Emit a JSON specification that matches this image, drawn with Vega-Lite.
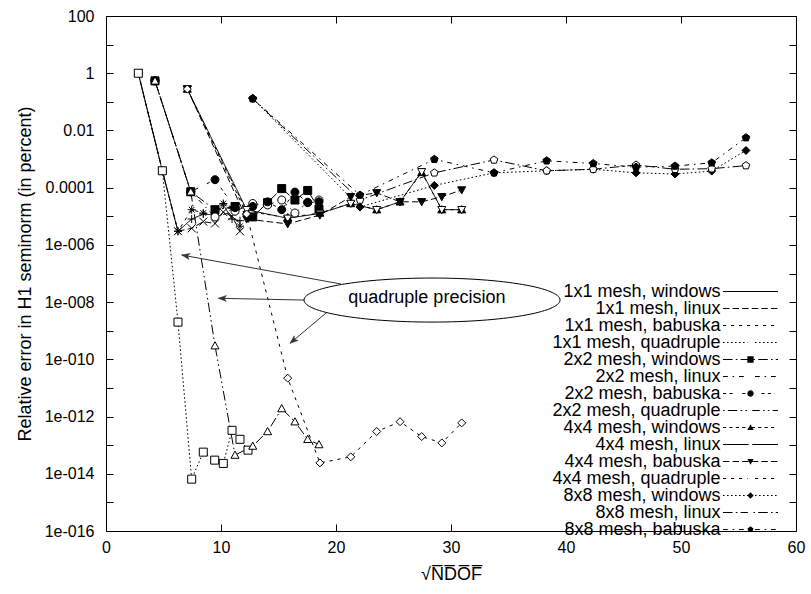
{
  "$schema": "https://vega.github.io/schema/vega-lite/v6.json",
  "autosize": "none",
  "width": 690,
  "height": 515,
  "padding": {"left": 106, "top": 16, "right": 15, "bottom": 63},
  "background": "white",
  "config": {
    "font": "Liberation Sans",
    "view": {"stroke": "black", "strokeWidth": 1},
    "point": {"stroke": "black", "strokeWidth": 1},
    "axis": {
      "domain": false, "grid": false, "tickColor": "black", "tickSize": -7, "tickWidth": 1,
      "labelColor": "black", "labelFont": "Liberation Sans", "labelFontSize": 16, "labelFlush": false,
      "labelOverlap": false, "titleFont": "Liberation Sans", "titleFontSize": 18,
      "titleFontWeight": "normal", "titleColor": "black"
    },
    "legend": {
      "labelFont": "Liberation Sans", "labelColor": "black", "labelFontSize": 18, "padding": 0,
      "rowPadding": -2.9, "clipHeight": 16, "labelLimit": 500
    }
  },
  "datasets": {
    "pts": [
      {"s": "1x1 mesh, windows", "x": [2.81, 4.9, 6.26, 7.45, 8.46, 9.48, 10.2, 10.96, 11.65], "y": [1, 3.9e-4, 3e-6, 8e-6, 1.2e-5, 1.1e-5, 2.5e-5, 8e-6, 7e-6]},
      {"s": "1x1 mesh, linux", "x": [2.81, 4.9, 6.26, 7.45, 8.46, 9.48, 10.2, 10.96, 11.65], "y": [1, 3.9e-4, 3e-6, 3.8e-6, 6.5e-6, 5.6e-6, 1.4e-5, 1e-5, 3e-6]},
      {"s": "1x1 mesh, babuska", "x": [2.81, 4.9, 6.26, 7.45, 8.46, 9.48, 10.2, 10.96, 11.65], "y": [1, 3.9e-4, 3e-6, 1.7e-5, 1.3e-5, 1.2e-5, 2.8e-5, 1.9e-5, 4.5e-6]},
      {"s": "1x1 mesh, quadruple", "x": [2.81, 4.9, 6.26, 7.45, 8.46, 9.45, 10.2, 10.96, 11.65, 12.35], "y": [1, 3.9e-4, 2e-9, 6.5e-15, 5.7e-14, 3e-14, 2.3e-14, 3.3e-13, 1.6e-13, 6.7e-14]},
      {"s": "2x2 mesh, windows", "x": [4.26, 7.37, 9.48, 11.22, 12.76, 14.05, 15.28, 16.43, 17.54, 18.52], "y": [0.54, 7.2e-5, 1.7e-5, 2.2e-5, 9.5e-6, 3e-5, 9.3e-5, 3.7e-5, 8e-5, 1.8e-5]},
      {"s": "2x2 mesh, linux", "x": [4.26, 7.37, 9.48, 11.22, 12.76, 14.05, 15.28, 16.43, 17.54, 18.52], "y": [0.54, 7.2e-5, 9.5e-6, 1.5e-5, 2.8e-5, 2.5e-5, 3.7e-5, 1.3e-5, 3.1e-5, 3.7e-5]},
      {"s": "2x2 mesh, babuska", "x": [4.26, 7.37, 9.48, 11.22, 12.76, 14.05, 15.28, 16.43, 17.54, 18.52], "y": [0.54, 7.2e-5, 1.9e-4, 2e-5, 2.2e-5, 3.2e-5, 1.7e-5, 7e-5, 3e-5, 3.2e-5]},
      {"s": "2x2 mesh, quadruple", "x": [4.26, 7.37, 9.48, 11.22, 12.76, 14.05, 15.28, 16.43, 17.54, 18.52], "y": [0.54, 7.2e-5, 3e-10, 4.5e-14, 9.3e-14, 3e-13, 1.9e-12, 6.6e-13, 1.6e-13, 1.05e-13]},
      {"s": "4x4 mesh, windows", "x": [7.07, 12.23, 15.8, 18.6, 21.28, 23.54, 25.57, 27.45, 29.2, 30.93], "y": [0.28, 1.5e-5, 9e-6, 1.3e-5, 2.8e-5, 1.7e-5, 3.2e-5, 3.4e-4, 1.7e-5, 1.7e-5]},
      {"s": "4x4 mesh, linux", "x": [7.07, 12.23, 15.8, 18.6, 21.28, 23.54, 25.57, 27.45, 29.2, 30.93], "y": [0.28, 1.7e-5, 8.5e-6, 1.26e-5, 2.8e-5, 1.7e-5, 3.2e-5, 3.6e-4, 1.7e-5, 1.7e-5]},
      {"s": "4x4 mesh, babuska", "x": [7.07, 12.23, 15.8, 18.6, 21.28, 23.54, 25.57, 27.45, 29.2, 30.93], "y": [0.28, 8e-6, 5.4e-6, 1.1e-5, 4.8e-5, 6.6e-5, 3.2e-5, 3.2e-5, 4.8e-5, 8.3e-5]},
      {"s": "4x4 mesh, quadruple", "x": [7.07, 12.23, 15.8, 18.6, 21.28, 23.54, 25.57, 27.45, 29.2, 30.93], "y": [0.28, 1.2e-5, 2.2e-11, 2.4e-14, 3.9e-14, 3e-13, 6.6e-13, 2e-13, 1.2e-13, 6e-13]},
      {"s": "8x8 mesh, windows", "x": [12.76, 22.09, 28.55, 33.74, 38.32, 42.37, 46.09, 49.48, 52.67, 55.65], "y": [0.13, 2.1e-5, 1.2e-4, 3.3e-4, 3.9e-4, 4.4e-4, 3.3e-4, 3e-4, 3.8e-4, 2e-3]},
      {"s": "8x8 mesh, linux", "x": [12.76, 22.09, 28.55, 33.74, 38.32, 42.37, 46.09, 49.48, 52.67, 55.65], "y": [0.13, 3.7e-5, 3.3e-4, 9.3e-4, 3.9e-4, 4.4e-4, 6.2e-4, 4.4e-4, 4.6e-4, 5.9e-4]},
      {"s": "8x8 mesh, babuska", "x": [12.76, 22.09, 28.55, 33.74, 38.32, 42.37, 46.09, 49.48, 52.67, 55.65], "y": [0.13, 5.5e-5, 9.8e-4, 3.3e-4, 8.7e-4, 7e-4, 5.2e-4, 5.7e-4, 7.4e-4, 5.6e-3]}
    ],
    "arrows": [
      {"x1": 20.43, "y1": 4.3e-8, "x2": 6.58, "y2": 4.43e-7},
      {"x1": 17.22, "y1": 1.18e-8, "x2": 9.77, "y2": 1.36e-8},
      {"x1": 19.19, "y1": 4.33e-9, "x2": 16.0, "y2": 3.63e-10}
    ]
  },
  "resolve": {"axis": {"x": "independent", "y": "independent"}},
  "layer": [
    {
      "data": {"name": "pts"},
      "transform": [{"flatten": ["x", "y"]}],
      "mark": {"type": "line", "strokeWidth": 1},
      "encoding": {
        "x": {"field": "x", "type": "quantitative", "scale": {"domain": [0, 60], "nice": false, "zero": false},
          "axis": {"orient": "bottom", "values": [0, 10, 20, 30, 40, 50, 60], "title": "√N̅D̅O̅F̅", "labelPadding": 15, "titlePadding": 10}},
        "y": {"field": "y", "type": "quantitative", "scale": {"type": "log", "domain": [1e-16, 100], "nice": false},
          "axis": {"orient": "left", "values": [100, 10, 1, 0.1, 0.01, 0.001, 0.0001, 1e-5, 1e-6, 1e-7, 1e-8, 1e-9, 1e-10, 1e-11, 1e-12, 1e-13, 1e-14, 1e-15, 1e-16],
            "labelExpr": "['100','','1','','0.01','','0.0001','','1e-006','','1e-008','','1e-010','','1e-012','','1e-014','','1e-016'][round(2 - log(datum.value)/LN10)]",
            "labelPadding": 19, "title": "Relative error in H1 seminorm (in percent)", "titlePadding": 10}},
        "stroke": {"field": "s", "type": "nominal",
          "scale": {"domain": ["1x1 mesh, windows", "1x1 mesh, linux", "1x1 mesh, babuska", "1x1 mesh, quadruple", "2x2 mesh, windows", "2x2 mesh, linux", "2x2 mesh, babuska", "2x2 mesh, quadruple", "4x4 mesh, windows", "4x4 mesh, linux", "4x4 mesh, babuska", "4x4 mesh, quadruple", "8x8 mesh, windows", "8x8 mesh, linux", "8x8 mesh, babuska", " "], "range": ["black"]},
          "legend": {"orient": "none", "title": null, "legendX": 596.5, "legendY": 267.5, "symbolSize": 1, "symbolOpacity": 0, "labelAlign": "right", "labelOffset": 0}},
        "strokeDash": {"field": "s", "type": "nominal",
          "sort": ["1x1 mesh, windows", "1x1 mesh, linux", "1x1 mesh, babuska", "1x1 mesh, quadruple", "2x2 mesh, windows", "2x2 mesh, linux", "2x2 mesh, babuska", "2x2 mesh, quadruple", "4x4 mesh, windows", "4x4 mesh, linux", "4x4 mesh, babuska", "4x4 mesh, quadruple", "8x8 mesh, windows", "8x8 mesh, linux", "8x8 mesh, babuska"],
          "scale": {"range": [[1, 0], [6.4, 3.2], [3.2, 4.8], [1.6, 2.4], [9.6, 3.2, 1.6, 3.2], [4.8, 4.8, 1.6, 4.8], [3.2, 3.2, 3.2, 9.6], [1.6, 3.2, 9.6, 3.2, 1.6, 3.2], [3.2, 3.2, 3.2, 3.2, 3.2, 3.2, 3.2, 6.4], [1, 0], [6.4, 3.2], [3.2, 4.8], [1.6, 2.4], [9.6, 3.2, 1.6, 3.2], [4.8, 4.8, 1.6, 4.8]]},
          "legend": {"orient": "none", "title": null, "legendX": 616.5, "legendY": 267.5, "symbolType": "M-1,0H1", "symbolSize": 3025, "symbolStrokeColor": "black", "symbolStrokeWidth": 1, "labelExpr": "' '",
            "encode": {"symbols": {"update": {"stroke": {"value": "black"}, "strokeWidth": {"value": 1}}}}}}
      }
    },
    {
      "data": {"name": "pts"},
      "transform": [{"flatten": ["x", "y"]}],
      "mark": {"type": "point", "filled": true, "stroke": "black", "strokeWidth": 1, "size": 64, "opacity": 1},
      "encoding": {
        "x": {"field": "x", "type": "quantitative", "axis": {"orient": "top", "values": [0, 10, 20, 30, 40, 50, 60], "labels": false, "title": null}},
        "y": {"field": "y", "type": "quantitative", "axis": {"orient": "right", "values": [100, 10, 1, 0.1, 0.01, 0.001, 0.0001, 1e-5, 1e-6, 1e-7, 1e-8, 1e-9, 1e-10, 1e-11, 1e-12, 1e-13, 1e-14, 1e-15, 1e-16], "labels": false, "title": null}},
        "shape": {"field": "s", "type": "nominal",
          "scale": {"domain": ["1x1 mesh, windows", "1x1 mesh, linux", "1x1 mesh, babuska", "1x1 mesh, quadruple", "2x2 mesh, windows", "2x2 mesh, linux", "2x2 mesh, babuska", "2x2 mesh, quadruple", "4x4 mesh, windows", "4x4 mesh, linux", "4x4 mesh, babuska", "4x4 mesh, quadruple", "8x8 mesh, windows", "8x8 mesh, linux", "8x8 mesh, babuska"],
            "range": ["M-1,0H1M0,-1V1", "M-1,-1L1,1M-1,1L1,-1", "M-1,0H1M0,-1V1M-0.7,-0.7L0.7,0.7M-0.7,0.7L0.7,-0.7", "M-1,-1H1V1H-1Z", "M-1,-1H1V1H-1Z", "M1,0A1,1,0,1,1,-1,0A1,1,0,1,1,1,0Z", "M1,0A1,1,0,1,1,-1,0A1,1,0,1,1,1,0Z", "M0,-1L1,0.8L-1,0.8Z", "M0,-1L1,0.8L-1,0.8Z", "M0,1L1,-0.8L-1,-0.8Z", "M0,1L1,-0.8L-1,-0.8Z", "M0,-1L1,0L0,1L-1,0Z", "M0,-1L1,0L0,1L-1,0Z", "M0,-1L0.95,-0.31L0.59,0.81L-0.59,0.81L-0.95,-0.31Z", "M0,-1L0.95,-0.31L0.59,0.81L-0.59,0.81L-0.95,-0.31Z"]},
          "legend": {"orient": "none", "title": null, "legendX": 635.5, "legendY": 267.5, "symbolSize": 40, "symbolStrokeColor": "black", "symbolStrokeWidth": 1, "labelExpr": "' '",
            "encode": {"symbols": {"update": {"stroke": {"value": "black"}, "strokeWidth": {"value": 1}}}}}},
        "fill": {"field": "s", "type": "nominal",
          "scale": {"domain": ["1x1 mesh, windows", "1x1 mesh, linux", "1x1 mesh, babuska", "1x1 mesh, quadruple", "2x2 mesh, windows", "2x2 mesh, linux", "2x2 mesh, babuska", "2x2 mesh, quadruple", "4x4 mesh, windows", "4x4 mesh, linux", "4x4 mesh, babuska", "4x4 mesh, quadruple", "8x8 mesh, windows", "8x8 mesh, linux", "8x8 mesh, babuska"],
            "range": ["black", "black", "black", "white", "black", "white", "black", "white", "black", "white", "black", "white", "black", "white", "black"]},
          "legend": {"orient": "none", "title": null, "legendX": 635.5, "legendY": 267.5, "symbolSize": 40, "symbolStrokeColor": "black", "symbolStrokeWidth": 1, "labelExpr": "' '",
            "encode": {"symbols": {"update": {"stroke": {"value": "black"}, "strokeWidth": {"value": 1}}}}}}
      }
    },
    {
      "data": {"name": "arrows"},
      "mark": {"type": "rule", "stroke": "#333333", "strokeWidth": 1},
      "encoding": {
        "x": {"field": "x1", "type": "quantitative", "axis": null},
        "y": {"field": "y1", "type": "quantitative", "axis": null},
        "x2": {"field": "x2"},
        "y2": {"field": "y2"}
      }
    },
    {
      "data": {"values": [{}]},
      "mark": {"type": "point", "shape": "M0,0L-1,-0.38L-0.75,0L-1,0.38Z", "size": 256, "angle": 190.3, "filled": true, "fill": "#333333", "stroke": "#333333", "strokeWidth": 0.5, "opacity": 1},
      "encoding": {"x": {"datum": 6.58, "type": "quantitative", "axis": null}, "y": {"datum": 4.43e-7, "type": "quantitative", "axis": null}}
    },
    {
      "data": {"values": [{}]},
      "mark": {"type": "point", "shape": "M0,0L-1,-0.38L-0.75,0L-1,0.38Z", "size": 256, "angle": 181.1, "filled": true, "fill": "#333333", "stroke": "#333333", "strokeWidth": 0.5, "opacity": 1},
      "encoding": {"x": {"datum": 9.77, "type": "quantitative", "axis": null}, "y": {"datum": 1.36e-8, "type": "quantitative", "axis": null}}
    },
    {
      "data": {"values": [{}]},
      "mark": {"type": "point", "shape": "M0,0L-1,-0.38L-0.75,0L-1,0.38Z", "size": 256, "angle": 140, "filled": true, "fill": "#333333", "stroke": "#333333", "strokeWidth": 0.5, "opacity": 1},
      "encoding": {"x": {"datum": 16.0, "type": "quantitative", "axis": null}, "y": {"datum": 3.63e-10, "type": "quantitative", "axis": null}}
    },
    {
      "data": {"values": [{}]},
      "mark": {"type": "point", "shape": "M-1,0A1,0.172,0,1,0,1,0A1,0.172,0,1,0,-1,0Z", "size": 65536, "filled": false, "stroke": "black", "strokeWidth": 1, "opacity": 1},
      "encoding": {"x": {"datum": 28.35, "type": "quantitative", "axis": null}, "y": {"datum": 1.18e-8, "type": "quantitative", "axis": null}}
    },
    {
      "data": {"values": [{"t": "quadruple precision"}]},
      "mark": {"type": "text", "font": "Liberation Sans", "fontSize": 18, "color": "black", "align": "center", "baseline": "middle"},
      "encoding": {"x": {"datum": 27.9, "type": "quantitative", "axis": null}, "y": {"datum": 1.39e-8, "type": "quantitative", "axis": null}, "text": {"field": "t"}}
    }
  ]
}
